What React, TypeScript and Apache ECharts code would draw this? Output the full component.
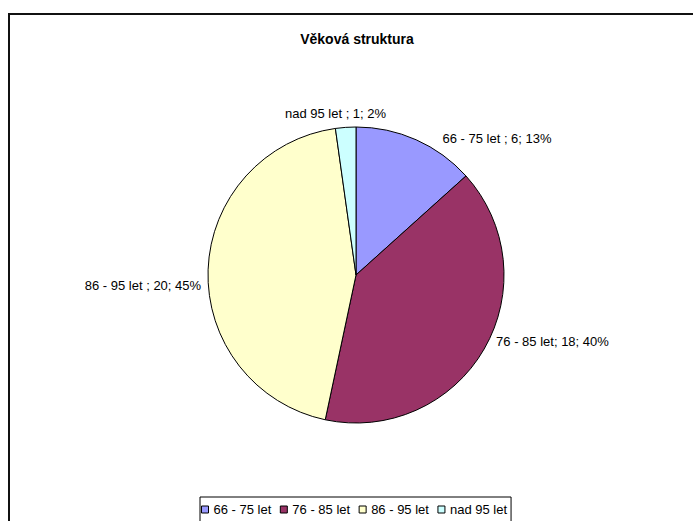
import React, { useEffect, useRef } from "react";
import * as echarts from "echarts";

const title = "Věková struktura";
const categories = ["66 - 75 let ", "76 - 85 let", "86 - 95 let ", "nad 95 let "];
const legendNames = ["66 - 75 let", "76 - 85 let", "86 - 95 let", "nad 95 let"];
const values = [6, 18, 20, 1];
const colors = ["#9999FF", "#993366", "#FFFFCC", "#CCFFFF"];
// small nudges of the data labels, to mimic the original's label placement
const labelNudges = [
  [18, 6],
  [0, -12],
  [6, 16],
  [46, -6],
];

export default function App() {
  const ref = useRef<HTMLDivElement>(null);
  useEffect(() => {
    if (!ref.current) return;
    const chart = echarts.init(ref.current, null, { renderer: "svg" });
    const font = "Arial, 'Liberation Sans', sans-serif";
    chart.setOption({
      animation: false,
      backgroundColor: "#ffffff",
      title: {
        text: title,
        left: 352,
        textAlign: "center",
        top: 27,
        textStyle: { fontFamily: font, fontSize: 14, fontWeight: "bold", color: "#000" },
      },
      legend: {
        left: 200,
        top: 497,
        orient: "horizontal",
        data: categories.map((c) => ({ name: c })),
        formatter: (n: string) => legendNames[categories.indexOf(n)],
        itemWidth: 7,
        itemHeight: 7,
        itemGap: 8.5,
        icon: "rect",
        padding: [6, 4, 12, 1],
        borderColor: "#000",
        borderWidth: 1,
        itemStyle: { borderColor: "#000", borderWidth: 1 },
        textStyle: { fontFamily: font, fontSize: 13, color: "#000" },
      },
      graphic: [
        {
          type: "rect",
          shape: { x: 9, y: 14, width: 900, height: 700 },
          style: { fill: "none", stroke: "#111", lineWidth: 2 },
          silent: true,
          z: -1,
        },
      ],
      series: [
        {
          type: "pie",
          center: [356, 275],
          radius: 148,
          startAngle: 90,
          clockwise: true,
          avoidLabelOverlap: false,
          percentPrecision: 0,
          data: categories.map((c, i) => ({
            name: c,
            value: values[i],
            itemStyle: { color: colors[i] },
          })),
          itemStyle: { borderColor: "#000", borderWidth: 1 },
          label: {
            show: true,
            position: "outside",
            formatter: "{b}; {c}; {d}%",
            fontFamily: font,
            fontSize: 13,
            color: "#000",
          },
          labelLine: { show: false, length: 8, length2: 0 },
          labelLayout: (p: any) => ({
            dx: labelNudges[p.dataIndex][0],
            dy: labelNudges[p.dataIndex][1],
          }),
          emphasis: { disabled: true },
        },
      ],
    });
    return () => chart.dispose();
  }, []);
  return (
    <div
      ref={ref}
      style={{ position: "fixed", left: 0, top: 0, width: 693, height: 521 }}
    />
  );
}
